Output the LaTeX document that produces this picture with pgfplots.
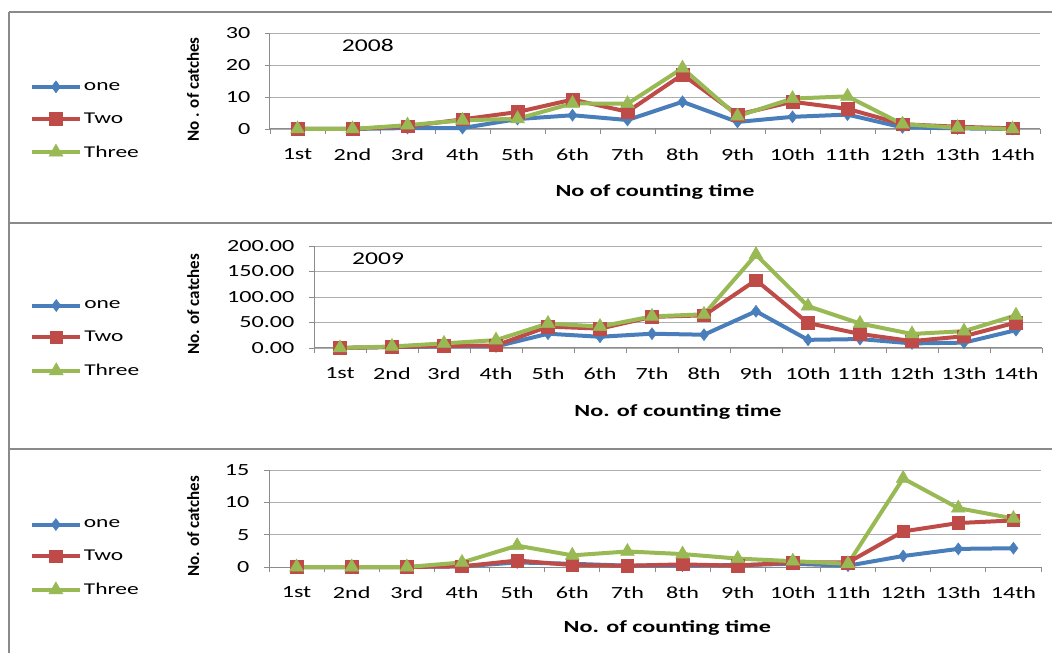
\documentclass[border=0pt]{standalone}
\usepackage{pgfplots}
\pgfplotsset{compat=1.18}
\usepackage{pgfplotstable}
\usepackage{fontspec}
\setmainfont{Carlito}[FakeStretch=1.42]
\newfontfamily\ylabfont{Carlito}
\definecolor{cBlue}{HTML}{4A7EBB}
\definecolor{cRed}{HTML}{BE4B48}
\definecolor{cGreen}{HTML}{98B954}
\definecolor{cGrid}{HTML}{ADADAD}
\definecolor{cAxis}{HTML}{8C8C8C}
\definecolor{cFrame}{HTML}{8A8A8A}

\pgfplotstableread{
x one two three
1 0 0 0
2 0 0 0
3 0.3 0.8 1.2
4 0.3 3.0 2.7
5 3.1 5.3 3.2
6 4.3 9.2 8.0
7 2.8 5.4 7.9
8 8.5 17.0 19.0
9 2.2 4.5 4.0
10 3.8 8.5 9.5
11 4.5 6.3 10.2
12 0.5 1.5 1.5
13 0.2 0.7 0.4
14 0 0.2 0
}\dataA

\pgfplotstableread{
x one two three
1 0 0 0
2 2 2 3
3 3 4 9
4 3 5 15.5
5 28 42 48
6 22 38 42
7 28 61 62
8 26 64 66
9 72 133 183
10 16 49 82
11 17.5 27.5 48
12 9 13.5 27.5
13 10.5 23 33
14 35 50 64
}\dataB

\pgfplotstableread{
x one two three
1 0 0 0
2 0 0 0
3 0 0 0
4 0.1 0.1 0.7
5 0.7 1.0 3.3
6 0.5 0.3 1.8
7 0.2 0.2 2.4
8 0.2 0.4 2.0
9 0.3 0.2 1.3
10 0.5 0.7 0.9
11 0.2 0.7 0.5
12 1.7 5.5 13.7
13 2.8 6.8 9.1
14 2.9 7.2 7.5
}\dataC

\pgfplotsset{
  panel/.style={
    scale only axis,
    anchor=south west,
    xmin=0.5, xmax=14.5,
    xtick={1,...,14},
    xticklabels={1st,2nd,3rd,4th,5th,6th,7th,8th,9th,10th,11th,12th,13th,14th},
    minor xtick={0.5,1.5,...,14.5},
    major x tick style={draw=none},
    minor x tick style={cAxis, line width=0.8pt},
    y tick style={cAxis, line width=0.8pt},
    tick align=outside,
    major tick length=5pt,
    minor tick length=5pt,
    axis x line*=bottom,
    axis y line*=left,
    axis line style={cAxis, line width=1pt, -},
    ymajorgrids,
    grid style={cGrid, line width=0.8pt},
    tick label style={font=\fontsize{17}{19}\selectfont, black},
    /pgf/number format/assume math mode=true,
    label style={font=\fontsize{17}{20}\selectfont\bfseries},
    ylabel style={font=\fontsize{17}{20}\selectfont\bfseries\ylabfont},
    xticklabel style={yshift=-11pt},
    yticklabel style={xshift=-11pt},
    legend cell align=left,
    legend image code/.code={\draw[##1, mark repeat=2, mark phase=2] plot coordinates {(0pt,0pt) (24pt,0pt) (48pt,0pt)};},
    clip=false,
  },
  sOne/.style={cBlue, line width=4pt, mark=diamond*, mark size=6pt, mark options={solid, fill=cBlue, draw=cBlue, line width=0.5pt}},
  sTwo/.style={cRed, line width=4pt, mark=square*, mark size=6.3pt, mark options={solid, fill=cRed, draw=cRed, line width=0.5pt}},
  sThree/.style={cGreen, line width=4pt, mark=triangle*, mark size=8pt, mark options={solid, fill=cGreen, draw=cGreen, line width=0.5pt}},
  lgd/.style={legend style={at={(#1)}, anchor=west, draw=none, fill=none, row sep=17pt, inner sep=0pt, font=\fontsize{16.5}{17}\selectfont}},
}

\begin{document}
\begin{tikzpicture}[x=1pt,y=1pt]
\path[use as bounding box] (0,0) rectangle (1052,653);
\draw[cFrame, line width=1.4pt] (9,641) -- (1052,641);
\draw[cFrame, line width=1.4pt] (9,430) -- (1052,430);
\draw[cFrame, line width=1.4pt] (9,204) -- (1052,204);
\draw[cFrame, line width=1.4pt] (9,0) -- (9,641);

% Panel 1 (2008)
\begin{axis}[panel, at={(270pt,524pt)}, width=770pt, height=96pt,
  ymin=0, ymax=30, ytick={0,10,20,30},
  xlabel={No of counting time}, ylabel={No . of catches},
  x label style={at={(axis description cs:0.5,-0.656)}, anchor=center},
  y label style={at={(axis description cs:-0.1,0.41)}, anchor=center},
  lgd={-0.312,0.09},
]
\addplot[sOne] table[x=x,y=one] {\dataA};
\addplot[sTwo] table[x=x,y=two] {\dataA};
\addplot[sThree] table[x=x,y=three] {\dataA};
\legend{one,Two,Three}
\node[font=\fontsize{18}{20}\selectfont] at (rel axis cs:0.127,0.875) {2008};
\end{axis}

% Panel 2 (2009)
\begin{axis}[panel, at={(314pt,305pt)}, width=728pt, height=102pt,
  ymin=0, ymax=200, ytick={0,50,100,150,200},
  yticklabel style={/pgf/number format/.cd, fixed, fixed zerofill, precision=2},
  xlabel={No. of counting time}, ylabel={No. of catches},
  x label style={at={(axis description cs:0.5,-0.627)}, anchor=center},
  y label style={at={(axis description cs:-0.166,0.43)}, anchor=center},
  lgd={-0.39,0.088},
]
\addplot[sOne] table[x=x,y=one] {\dataB};
\addplot[sTwo] table[x=x,y=two] {\dataB};
\addplot[sThree] table[x=x,y=three] {\dataB};
\legend{one,Two,Three}
\node[font=\fontsize{18}{20}\selectfont] at (rel axis cs:0.088,0.873) {2009};
\end{axis}

% Panel 3
\begin{axis}[panel, at={(269pt,86pt)}, width=772pt, height=97pt,
  ymin=0, ymax=15, ytick={0,5,10,15},
  xlabel={No. of counting time}, ylabel={No. of catches},
  x label style={at={(axis description cs:0.516,-0.629)}, anchor=center},
  y label style={at={(axis description cs:-0.098,0.42)}, anchor=center},
  lgd={-0.31,0.092},
]
\addplot[sOne] table[x=x,y=one] {\dataC};
\addplot[sTwo] table[x=x,y=two] {\dataC};
\addplot[sThree] table[x=x,y=three] {\dataC};
\legend{one,Two,Three}
\end{axis}
\end{tikzpicture}
\end{document}
